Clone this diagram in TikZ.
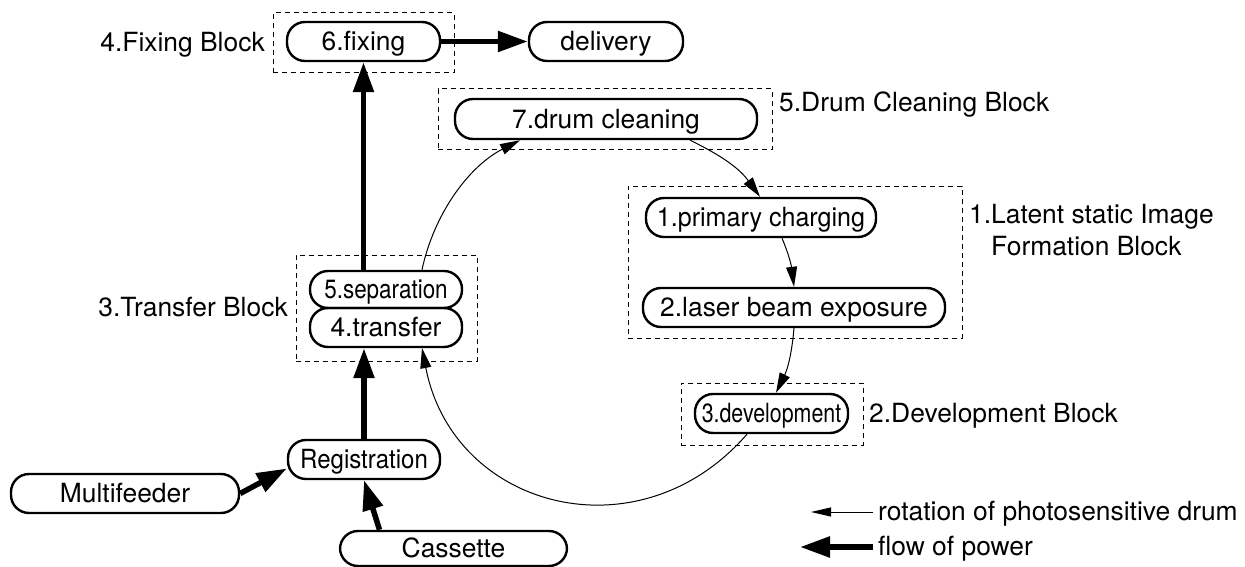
\documentclass[tikz,border=0pt]{standalone}
\usepackage{fontspec}
\setmainfont{TeX Gyre Heros}
\usepackage{graphicx}
\usetikzlibrary{arrows.meta}
\begin{document}
\begin{tikzpicture}[x=1pt,y=1pt, font=\fontsize{26.4}{32}\selectfont,
 pill/.style={draw, line width=2.4pt, rounded corners=18pt, inner sep=0pt, minimum height=39pt, text height=18.8pt, text depth=0pt},
 blk/.style={draw, dash pattern=on 5pt off 4pt, line width=1pt, inner sep=0pt},
 lbl/.style={inner sep=0pt, anchor=base west},
 power/.style={line width=5.5pt, -{Triangle[length=30pt,width=20pt]}},
 rot/.style={line width=1pt, -{Triangle[length=20pt,width=11pt]}},
 legrot/.style={line width=1pt, -{Triangle[length=20pt,width=9pt]}}]
\useasboundingbox (0,0) rectangle (1245,-567);
% dashed blocks
\node[blk, minimum width=181pt, minimum height=60pt] (bfix) at (363.5,-43) {};
\node[blk, minimum width=334pt, minimum height=61pt] (bdrum) at (605,-119.5) {};
\node[blk, minimum width=334pt, minimum height=152pt] (blat) at (795,-262) {};
\node[blk, minimum width=182pt, minimum height=62pt] (bdev) at (772,-414) {};
\node[blk, minimum width=181pt, minimum height=106pt] (btr) at (386.5,-308) {};
% pills
\node[pill, minimum width=153pt] (fix) at (363.5,-41.5) {6.fixing};
\node[pill, minimum width=154pt] (deliv) at (606,-41.5) {delivery};
\node[pill, minimum width=302pt, minimum height=40pt] (drum) at (606,-119) {7.drum cleaning};
\node[pill, minimum width=230pt] (prim) at (761,-217.5) {\scalebox{0.95}[1]{1.primary charging}};
\node[pill, minimum width=302pt] (laser) at (794,-307.5) {2.laser beam exposure};
\node[pill, minimum width=153pt] (dev) at (771.5,-413.5) {\scalebox{0.81}[1]{3.development}};
\node[pill, minimum width=152pt, minimum height=37pt] (sep) at (386,-289.5) {\scalebox{0.85}[1]{5.separation}};
\node[pill, minimum width=152pt] (tr) at (386,-327.5) {4.transfer};
\node[pill, minimum width=152pt] (reg) at (364,-459.5) {\scalebox{0.91}[1]{Registration}};
\node[pill, minimum width=228pt] (mf) at (125,-493.5) {Multifeeder};
\node[pill, minimum width=227pt, minimum height=35pt] (cas) at (453.5,-548.5) {Cassette};
% labels
\node[lbl, anchor=base east] (lfix) at (265,-52) {4.Fixing Block};
\node[lbl] (ldrum) at (779,-112) {5.Drum Cleaning Block};
\node[lbl] (llat1) at (969,-223) {1.Latent static Image};
\node[lbl] (llat2) at (991,-255) {Formation Block};
\node[lbl] (ldev) at (869,-422) {2.Development Block};
\node[lbl, anchor=base east] (ltr) at (288,-316) {3.Transfer Block};
\node[lbl] (lrot) at (878,-520) {rotation of photosensitive drum};
\node[lbl] (lpow) at (878,-555) {flow of power};
% drum rotation
\draw[rot] ([xshift=36pt]sep.north) to[out=78,in=207,looseness=0.9] ([xshift=-86pt]drum.south);
\draw[rot] ([xshift=84pt]drum.south) to[out=-26,in=126] ([xshift=-1pt]prim.north);
\draw[rot] ([xshift=21pt]prim.south) to[out=-67,in=97] (laser.north);
\draw[rot] (laser.south) to[out=-95,in=64] ([xshift=4.5pt]dev.north);
\draw[rot] ([xshift=-24.5pt]dev.south) to[out=-131,in=-79,looseness=1.25] ([xshift=36pt]tr.south);
% flow of power
\draw[power] (reg.north) -- (reg.north |- tr.south);
\draw[power] (sep.north -| fix.south) -- (fix.south);
\draw[power] (fix.east) -- (deliv.west);
\draw[power] (mf.east) -- ([yshift=-9pt]reg.west);
\draw[power] ([xshift=-74pt]cas.north) -- (reg.south);
% legend
\coordinate (r0) at (873,-512);
\coordinate (r1) at (811,-512);
\coordinate (p0) at (873,-547);
\coordinate (p1) at (800,-547);
\draw[legrot] (r0) -- (r1);
\draw[power] (p0) -- (p1);
\end{tikzpicture}
\end{document}
